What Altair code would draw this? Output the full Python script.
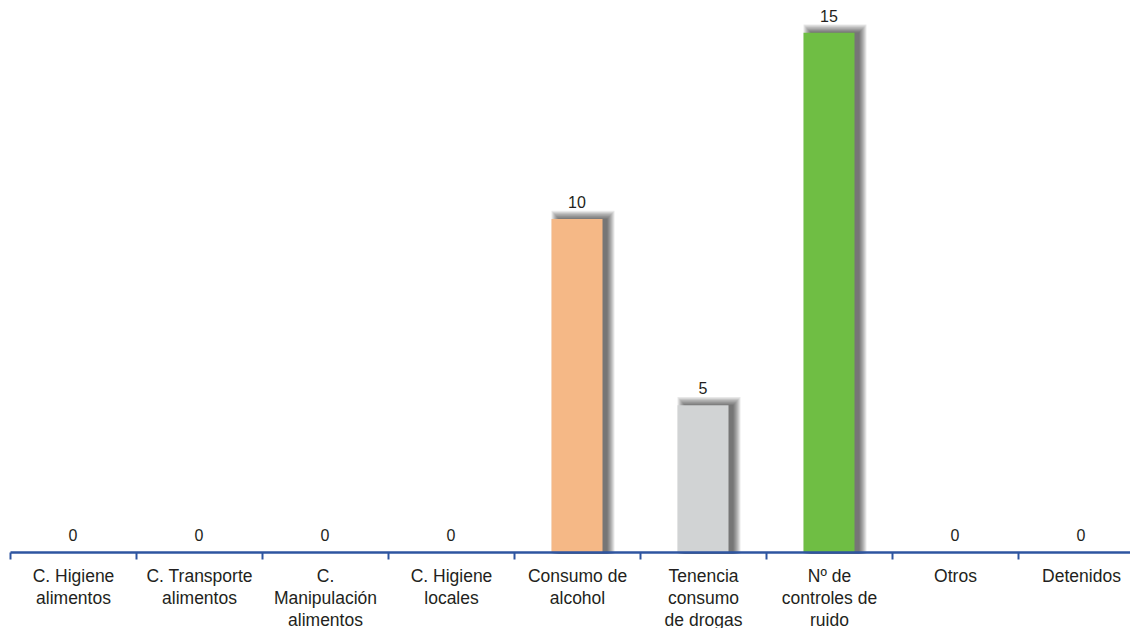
import altair as alt
import pandas as pd

categories = [
    "C. Higiene\nalimentos",
    "C. Transporte\nalimentos",
    "C.\nManipulación\nalimentos",
    "C. Higiene\nlocales",
    "Consumo de\nalcohol",
    "Tenencia\nconsumo\nde drogas",
    "Nº de\ncontroles de\nruido",
    "Otros",
    "Detenidos",
]
values = [0, 0, 0, 0, 10, 5, 15, 0, 0]
colors = ["#F5B886", "#F5B886", "#F5B886", "#F5B886", "#F5B886",
          "#D1D3D4", "#6FBE44", "#F5B886", "#F5B886"]

df = pd.DataFrame({"cat": categories, "value": values, "color": colors})

FONT = "Liberation Sans"
AXIS_COLOR = "#2E55A0"

x_enc = alt.X(
    "cat:N",
    sort=categories,
    scale=alt.Scale(range=[0, 1134], paddingInner=0, paddingOuter=0),
    axis=alt.Axis(
        title=None,
        labelExpr="split(datum.label, '\\n')",
        labelAngle=0,
        labelFont=FONT,
        labelFontSize=17.5,
        labelColor="#231F20",
        labelLineHeight=22,
        labelBaseline="top",
        labelPadding=8,
        labelOverlap=False,
        labelLimit=0,
        tickBand="extent",
        tickSize=7,
        tickWidth=2,
        tickColor=AXIS_COLOR,
        domainColor=AXIS_COLOR,
        domainWidth=2.5,
        zindex=1,
    ),
)
y_enc = alt.Y(
    "value:Q",
    stack=None,
    scale=alt.Scale(domain=[1.06, 15.61], clamp=True, nice=False, zero=False),
    axis=None,
)

base = alt.Chart(df).encode(x=x_enc, y=y_enc)

shadows = []
for i in range(8):
    shadows.append(
        base.transform_filter("datum.value > 0").mark_bar(
            width=49 + 2 * i, xOffset=6, yOffset=-(0.5 + 1.1 * i), y2Offset=2,
            color="black", opacity=0.09,
        ).encode(y2=alt.datum(1.06))
    )

bars = base.mark_bar(width=51).encode(
    y2=alt.datum(1.06),
    color=alt.Color("color:N", scale=None),
)

labels = base.mark_text(
    dy=-16, baseline="middle", fontSize=16, font=FONT, color="#231F20"
).encode(text=alt.Text("value:Q"))

chart = alt.layer(*shadows, bars, labels).properties(
    width=1120,
    height=542,
    autosize=alt.AutoSizeParams(type="none"),
    padding={"left": 2, "top": 2, "right": 0, "bottom": 76},
).configure_view(stroke=None)

chart.save("out.html", embed_options={"renderer": "svg", "actions": False})
